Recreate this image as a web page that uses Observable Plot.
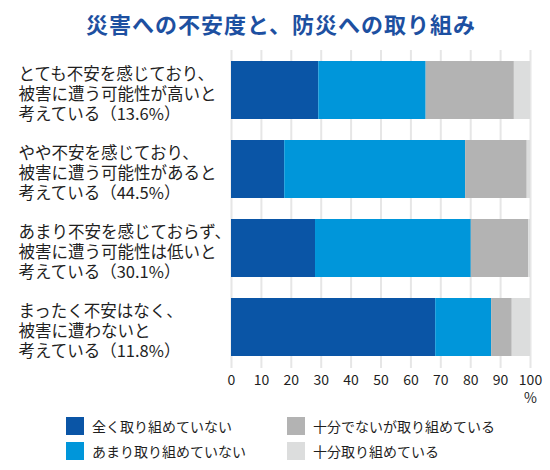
<!DOCTYPE html>
<html>
<head>
<meta charset="utf-8">
<script src="https://cdn.jsdelivr.net/npm/d3@7"></script>
<script src="https://cdn.jsdelivr.net/npm/@observablehq/plot@0.6"></script>
<style>
  body { margin: 0; background: #fff; font-family: "Noto Sans CJK JP", "Noto Sans", sans-serif; color: #1f1f1f; }
  #title { width: 550px; height: 40px; line-height: 46px; text-align: center; padding-left: 12px; box-sizing: border-box;
           font-size: 22px; font-weight: bold; letter-spacing: 1px; color: #1d50a1; }
  #legend { display: grid; grid-template-columns: 221px 221px; grid-template-rows: 25px 25px; grid-auto-flow: column;
            padding-left: 66px; margin-top: 5px; font-size: 14px; }
  #legend div { display: flex; align-items: center; }
  #legend span.sw { width: 18px; height: 18px; margin-right: 8px; display: inline-block; }
</style>
</head>
<body>
<div id="title">災害への不安度と、防災への取り組み</div>
<div id="grafico"></div>
<div id="legend"></div>
<script>
// categorías (eje y) con saltos de línea
const categories = [
  "とても不安を感じており、\n被害に遭う可能性が高いと\n考えている（13.6%）",
  "やや不安を感じており、\n被害に遭う可能性があると\n考えている（44.5%）",
  "あまり不安を感じておらず、\n被害に遭う可能性は低いと\n考えている（30.1%）",
  "まったく不安はなく、\n被害に遭わないと\n考えている（11.8%）"
]
const series = ["全く取り組めていない", "あまり取り組めていない", "十分でないが取り組めている", "十分取り組めている"]
const colors = ["#0a55a6", "#0096da", "#b3b3b3", "#dcdddd"]

// valores por serie (%)
const notAtAll = [29.2, 17.8, 28.1, 68.3]
const notMuch = [35.9, 60.5, 52.1, 18.7]
const partly = [29.5, 20.6, 19.2, 6.9]
const fully = [5.4, 1.1, 0.6, 6.1]

const xTicks = [0, 10, 20, 30, 40, 50, 60, 70, 80, 90, 100]

const valores = [notAtAll, notMuch, partly, fully]
const data = []
series.forEach((s, i) => {
  categories.forEach((c, j) => data.push({ categoria: c, serie: s, valor: valores[i][j] }))
})

const chart = Plot.plot({
  width: 550,
  height: 368,
  marginTop: 10,
  marginBottom: 40,
  marginLeft: 231,
  marginRight: 20,
  style: { fontSize: "14px", fontFamily: '"Noto Sans CJK JP", "Noto Sans", sans-serif', color: "#1f1f1f" },
  x: { domain: [0, 100], ticks: xTicks, tickSize: 0, tickPadding: 7, tickFormat: d => d, label: null },
  y: { domain: categories, axis: null, paddingInner: 0.2625, paddingOuter: 0.12 },
  color: { domain: series, range: colors },
  marks: [
    Plot.ruleX(xTicks, { stroke: "#e6e6e6", strokeWidth: 2 }),
    Plot.barX(data, { x: "valor", y: "categoria", fill: "serie", order: series }),
    Plot.text(categories, {
      y: d => d,
      text: d => d,
      frameAnchor: "left",
      textAnchor: "start",
      dx: -213,
      dy: 3,
      fontSize: 16.5,
      lineHeight: 1.2,
      fill: "#1f1f1f"
    }),
    Plot.text(["%"], { x: 100, frameAnchor: "bottom", dy: 34, fontSize: 14, fill: "#1f1f1f" })
  ]
})

d3.select('#grafico').append(() => chart)

// leyenda
const legend = d3.select('#legend')
series.forEach((s, i) => {
  const item = legend.append('div')
  item.append('span').attr('class', 'sw').style('background', colors[i])
  item.append('span').text(s)
})
</script>
</body>
</html>
